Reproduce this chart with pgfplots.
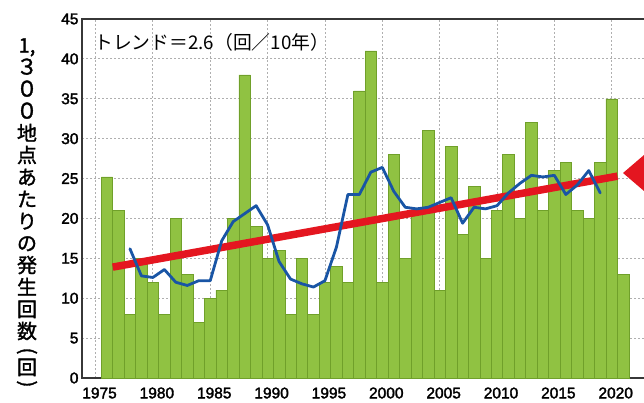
\documentclass[border=0pt]{standalone}
\usepackage{pgfplots}
\pgfplotsset{compat=1.18}
\usepackage{pgfplotstable}
\usepackage{fontspec}
\setmainfont{Liberation Sans}
\newfontfamily\tickfont{Liberation Sans}[FakeBold=2]
\newfontfamily\jp{Noto Sans CJK JP}
\newfontfamily\jpb{Noto Sans CJK JP}[FakeBold=1.5]
\definecolor{bargreen}{RGB}{144,194,66}
\definecolor{baredge}{RGB}{112,160,42}
\definecolor{mablue}{RGB}{25,85,165}
\definecolor{trendred}{RGB}{228,22,32}
\definecolor{axgray}{RGB}{55,55,55}
\definecolor{gridgray}{RGB}{175,175,175}

\pgfplotstableread{
year value
1976 25.2
1977 21
1978 8
1979 15
1980 12
1981 8
1982 20
1983 13
1984 7
1985 10
1986 11
1987 20
1988 38
1989 19
1990 15
1991 16
1992 8
1993 15
1994 8
1995 12
1996 14
1997 12
1998 36
1999 41
2000 12
2001 28
2002 15
2003 21
2004 31
2005 11
2006 29
2007 18
2008 24
2009 15
2010 21
2011 28
2012 20
2013 32
2014 21
2015 26
2016 27
2017 21
2018 20
2019 27
2020 35
2021 13
}\bars

\pgfplotstableread{
year avg
1978 16.2
1979 12.8
1980 12.6
1981 13.6
1982 12.0
1983 11.6
1984 12.2
1985 12.2
1986 17.2
1987 19.6
1988 20.6
1989 21.6
1990 19.2
1991 14.6
1992 12.4
1993 11.8
1994 11.4
1995 12.2
1996 16.4
1997 23.0
1998 23.0
1999 25.8
2000 26.4
2001 23.4
2002 21.4
2003 21.2
2004 21.4
2005 22.0
2006 22.6
2007 19.4
2008 21.4
2009 21.2
2010 21.6
2011 23.2
2012 24.4
2013 25.4
2014 25.2
2015 25.4
2016 23.0
2017 24.2
2018 26.0
2019 23.2
}\mavg

\begin{document}
\begin{tikzpicture}[x=1pt,y=1pt]
\useasboundingbox (0,0) rectangle (644,402);
\begin{axis}[
  at={(82pt,24pt)}, anchor=south west,
  scale only axis, width=578pt, height=359pt,
  xmin=1973.82, xmax=2024.21, ymin=0, ymax=45,
  axis line style={axgray, line width=1.3pt},
  xtick={1975,1980,...,2020}, ytick={0,5,...,45},
  major tick length=0pt,
  xmajorgrids, ymajorgrids,
  grid style={gridgray, line width=0.8pt, dash pattern=on 2pt off 2pt},
  /pgf/number format/assume math mode=true,
  /pgf/number format/set thousands separator={},
  ticklabel style={font=\tickfont\fontsize{15.5}{16}\selectfont, text=black},
  xticklabel style={yshift=-6pt, xshift=4pt},
  clip=false,
]
\addplot[ybar, bar width=11.47pt, fill=bargreen, draw=baredge, line width=0.5pt] table[x=year, y=value] {\bars};
\addplot[trendred, line width=7.5pt, line cap=butt] coordinates {(1976.5,13.9) (2020.5,25.3)};
\addplot[mablue, line width=2.8pt, line join=round, line cap=round] table[x=year, y=avg] {\mavg};
\end{axis}
\fill[trendred] (623,229) -- (665,265) -- (665,193) -- cycle;
\node[anchor=west, inner sep=0pt, font=\jp\fontsize{18.8}{20}\selectfont] at (94,360) {トレンド＝2.6（回／10年）};
\foreach \c [count=\i from 0] in {{1,},{\scalebox{1.08}{３}},{\scalebox{1.08}{０}},{\scalebox{1.08}{０}},地,点,あ,た,り,の,発,生,回,数}
  \node[anchor=base, inner sep=0pt, font=\jpb\fontsize{20}{22}\selectfont] at (27,{402-45-22*\i-7.6}) {\c};
\node[rotate=-90, inner sep=0pt, font=\jpb\fontsize{20}{22}\selectfont] at (27,{402-351}) {(};
\node[anchor=base, inner sep=0pt, font=\jpb\fontsize{20}{22}\selectfont] at (27,{402-367-7.6}) {回};
\node[rotate=-90, inner sep=0pt, font=\jpb\fontsize{20}{22}\selectfont] at (27,{402-384}) {)};
\end{tikzpicture}
\end{document}
